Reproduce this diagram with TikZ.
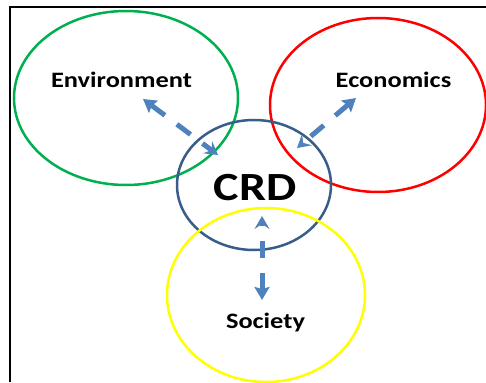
\documentclass[tikz,border=0pt]{standalone}
\usepackage{fontspec}
\newfontfamily\lblfont[FakeStretch=1.2]{Carlito}
\usetikzlibrary{shapes.geometric,arrows.meta}
\definecolor{envgreen}{HTML}{00B050}
\definecolor{ecored}{HTML}{FF0000}
\definecolor{socyellow}{HTML}{FFFF00}
\definecolor{crdblue}{HTML}{385D8A}
\definecolor{linkblue}{HTML}{4F81BD}
\begin{document}
\begin{tikzpicture}[x=1pt,y=-1pt,
	ring/.style={ellipse,draw,line width=2.5pt,inner sep=0pt},
	lbl/.style={font=\lblfont\bfseries\fontsize{22}{26}\selectfont,anchor=base},
	link/.style={draw=linkblue,line width=5pt,dash pattern=on 17pt off 15pt,
		{Stealth[length=13pt,width=15pt,inset=2pt]}-{Stealth[length=13pt,width=15pt,inset=5pt]}}]
	\useasboundingbox (0,0) rectangle (486,382);
	\draw[line width=2pt] (10,382) -- (10,7) -- (487,7);
	% the four rings
	\node[ring,draw=envgreen,minimum width=224pt,minimum height=174pt] (env) at (126,98) {};
	\node[ring,draw=ecored,minimum width=216pt,minimum height=174pt] (eco) at (378,105) {};
	\node[ring,draw=crdblue,minimum width=154pt,minimum height=130pt] (crd) at (254,185) {};
	\node[ring,draw=socyellow,minimum width=198pt,minimum height=174pt] (soc) at (266,295) {};
	% arrow ends
	\coordinate (envout) at (143,99);
	\coordinate (envin) at (218,155);
	\coordinate (ecoout) at (356,98);
	\coordinate (ecoin) at (297,148);
	\coordinate (socout) at (262,300);
	\coordinate (socin) at (262,216);
	\draw[link] (envout) -- (envin);
	\draw[link] (ecoout) -- (ecoin);
	\draw[link] (socout) -- (socin);
	% labels
	\node[lbl] (envlbl) at (121.5,88) {Environment};
	\node[lbl] (ecolbl) at (393.5,88) {Economics};
	\node[lbl,font=\lblfont\bfseries\fontsize{40}{46}\selectfont] (crdlbl) at (255,200) {CRD};
	\node[lbl] (soclbl) at (265.5,328) {Society};
\end{tikzpicture}
\end{document}
